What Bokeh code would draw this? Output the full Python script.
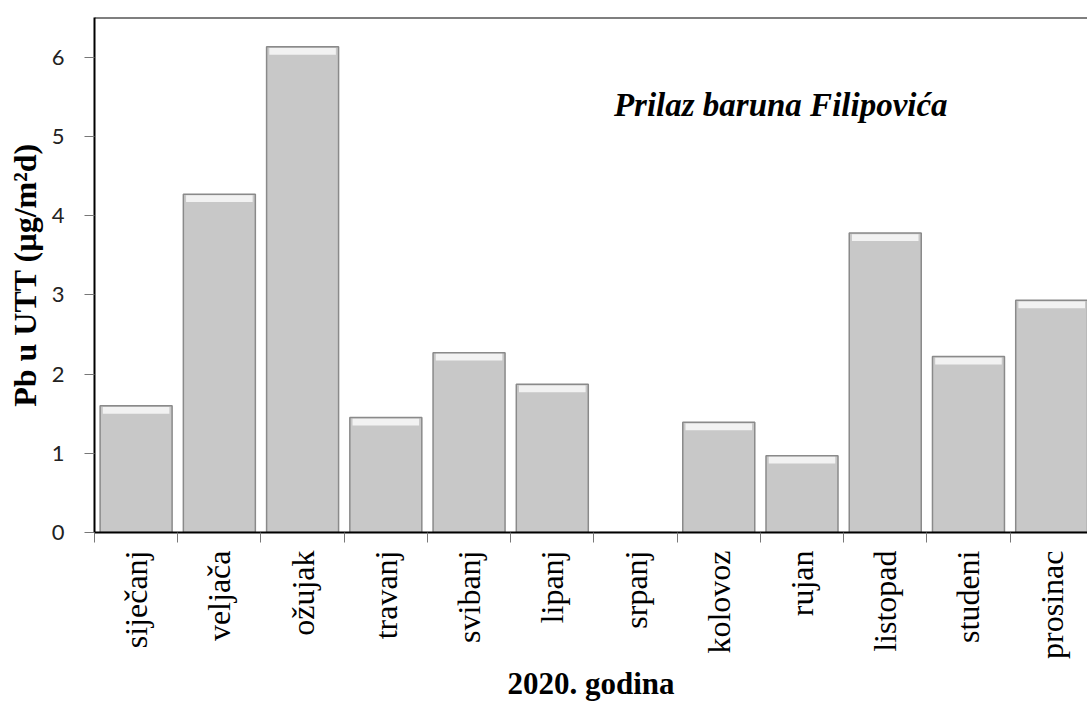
import math
from bokeh.plotting import figure
from bokeh.models import FixedTicker, Range1d, Span, Label, ColumnDataSource
from bokeh.embed import file_html
from bokeh.resources import INLINE

months = ["siječanj", "veljača", "ožujak", "travanj", "svibanj", "lipanj",
          "srpanj", "kolovoz", "rujan", "listopad", "studeni", "prosinac"]
pb = [1.60, 4.27, 6.13, 1.45, 2.27, 1.87, 0.0, 1.39, 0.97, 3.78, 2.22, 2.93]
y_ticks = [0, 1, 2, 3, 4, 5, 6]
y_label = "Pb u UTT (µg/m²d)"
x_label = "2020. godina"
site = "Prilaz baruna Filipovića"

n = len(months)
centers = [i + 0.5 for i in range(n)]
bounds = list(range(n + 1))
src = ColumnDataSource(dict(
    x=centers, top=pb,
    hl_top=[max(v - 0.015, 0) for v in pb],
    hl_bot=[max(v - 0.10, 0) for v in pb],
))

p = figure(width=1087, height=707, output_backend="svg", toolbar_location=None,
           x_range=Range1d(0, 11.93), y_range=Range1d(0, 6.5),
           min_border_left=94, min_border_top=17, min_border_right=0,
           min_border_bottom=175)
p.outline_line_color = None
p.grid.visible = False
p.background_fill_color = "white"
p.border_fill_color = "white"

p.vbar(x="x", top="top", bottom=0, width=0.865, source=src,
       fill_color="#c8c8c8", line_color="#8a8a8a", line_width=1.5)
p.vbar(x="x", top="hl_top", bottom="hl_bot", width=0.80, source=src,
       fill_color="#f6f6f6", fill_alpha=0.9, line_color=None)

p.add_layout(Span(location=6.5, dimension="width", line_color="black", line_width=2))

# y axis
ya = p.yaxis[0]
ya.ticker = FixedTicker(ticks=y_ticks)
ya.minor_tick_line_color = None
ya.axis_line_color = "black"
ya.axis_line_width = 2
ya.major_tick_line_color = "#777777"
ya.major_tick_out = 10
ya.major_tick_in = 0
ya.major_label_standoff = 20
ya.major_label_text_font = "Lato"
ya.major_label_text_font_size = "22px"
ya.major_label_text_color = "#222222"
ya.axis_label = y_label
ya.axis_label_text_font = "Liberation Serif"
ya.axis_label_text_font_style = "bold"
ya.axis_label_text_font_size = "32px"
ya.axis_label_text_color = "black"
ya.axis_label_standoff = 6

# x axis
xa = p.xaxis[0]
xa.ticker = FixedTicker(ticks=centers, minor_ticks=bounds)
xa.major_label_overrides = {c: m for c, m in zip(centers, months)}
xa.major_label_orientation = math.pi / 2
xa.major_tick_line_color = None
xa.major_tick_out = 10
xa.minor_tick_line_color = "#777777"
xa.minor_tick_out = 10
xa.minor_tick_in = 0
xa.axis_line_color = "black"
xa.axis_line_width = 2
xa.major_label_standoff = 8
xa.major_label_text_font = "Liberation Serif"
xa.major_label_text_font_size = "32px"
xa.major_label_text_color = "black"
xa.axis_label = x_label
xa.axis_label_text_font = "Liberation Serif"
xa.axis_label_text_font_style = "bold"
xa.axis_label_text_font_size = "31px"
xa.axis_label_text_color = "black"
xa.axis_label_standoff = 4

p.add_layout(Label(x=6.24, y=5.4, text=site, text_font="Liberation Serif",
                   text_font_style="bold italic", text_font_size="33px",
                   text_color="black", text_baseline="middle"))

open("out.html", "w").write(file_html(p, INLINE))
